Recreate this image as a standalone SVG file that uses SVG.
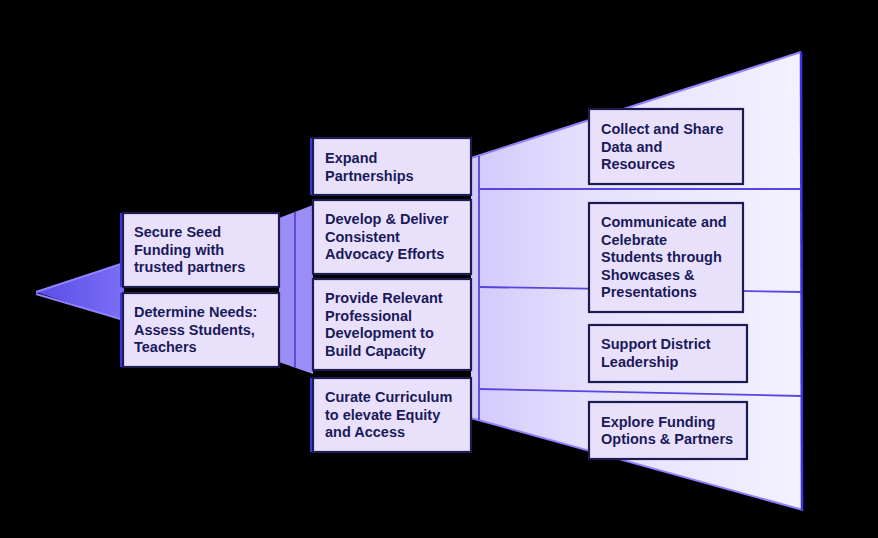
<svg xmlns="http://www.w3.org/2000/svg" width="878" height="538" viewBox="0 0 878 538">
<defs>
<linearGradient id="gTri" x1="0" y1="0" x2="1" y2="0"><stop offset="0" stop-color="#5a4ce6"/><stop offset="1" stop-color="#7c6ef4"/></linearGradient>
<linearGradient id="gBig" x1="0" y1="0" x2="1" y2="0"><stop offset="0" stop-color="#d2c9fb"/><stop offset="0.35" stop-color="#e6e0fd"/><stop offset="1" stop-color="#f4f1ff"/></linearGradient>
<style>
.box{fill:#e9e1fb;stroke:#1c1c52;stroke-width:2.2}
.t{font-family:"Liberation Sans",Arial,sans-serif;font-weight:bold;font-size:14.5px;fill:#1a1a5a}
.ln{stroke:#5546e0;stroke-width:1.8;fill:none}
.edge{stroke:#8f82ff;stroke-width:2;fill:none}
</style>
</defs>
<rect width="878" height="538" fill="#000"/>
<g id="funnel">
<polygon points="36,292 124,263 124,321" fill="url(#gTri)"/>
<polyline class="edge" points="36,292 124,263"/>
<polyline class="edge" points="36,294 124,320"/>
<polygon points="279,218 313,205 313,374 279,362" fill="#9b8df6"/>
<line class="ln" x1="295" y1="212" x2="295" y2="368"/>
<polygon points="471,158 801,52 803,510 471,418" fill="url(#gBig)"/>
<polyline class="edge" points="471,158 801,52"/>
<polyline class="edge" points="471,418 803,510"/>
<line x1="801" y1="52" x2="802" y2="510" stroke="#3a34f0" stroke-width="2.5"/>
<line class="ln" x1="479" y1="156" x2="479" y2="420"/>
<line class="ln" x1="479" y1="189" x2="801" y2="189"/>
<line class="ln" x1="479" y1="287" x2="801" y2="292"/>
<line class="ln" x1="479" y1="389" x2="801" y2="396"/>
</g>
<g id="n1"><rect class="box" x="123" y="213" width="156" height="74"/><line x1="121" y1="213" x2="121" y2="287" stroke="#3b38d8" stroke-width="2"/>
<text class="t" x="134"><tspan x="134" y="237">Secure Seed</tspan><tspan x="134" y="254.5">Funding with</tspan><tspan x="134" y="272">trusted partners</tspan></text></g>
<g id="n2"><rect class="box" x="123" y="293" width="156" height="74"/><line x1="121" y1="293" x2="121" y2="367" stroke="#3b38d8" stroke-width="2"/>
<text class="t"><tspan x="134" y="317">Determine Needs:</tspan><tspan x="134" y="334.5">Assess Students,</tspan><tspan x="134" y="352">Teachers</tspan></text></g>
<g id="n3"><rect class="box" x="313" y="138" width="158" height="57"/><line x1="311" y1="138" x2="311" y2="195" stroke="#3b38d8" stroke-width="2"/>
<text class="t"><tspan x="325" y="163">Expand</tspan><tspan x="325" y="180.5">Partnerships</tspan></text></g>
<g id="n4"><rect class="box" x="313" y="200" width="158" height="74"/>
<text class="t"><tspan x="325" y="224">Develop &amp; Deliver</tspan><tspan x="325" y="241.5">Consistent</tspan><tspan x="325" y="259">Advocacy Efforts</tspan></text></g>
<g id="n5"><rect class="box" x="313" y="279" width="158" height="91"/>
<text class="t"><tspan x="325" y="303">Provide Relevant</tspan><tspan x="325" y="320.5">Professional</tspan><tspan x="325" y="338">Development to</tspan><tspan x="325" y="355.5">Build Capacity</tspan></text></g>
<g id="n6"><rect class="box" x="313" y="378" width="158" height="74"/><line x1="311" y1="378" x2="311" y2="452" stroke="#3b38d8" stroke-width="2"/>
<text class="t"><tspan x="325" y="402">Curate Curriculum</tspan><tspan x="325" y="419.5">to elevate Equity</tspan><tspan x="325" y="437">and Access</tspan></text></g>
<g id="n7"><rect class="box" x="589" y="109" width="154" height="75"/>
<text class="t"><tspan x="601" y="134">Collect and Share</tspan><tspan x="601" y="151.5">Data and</tspan><tspan x="601" y="169">Resources</tspan></text></g>
<g id="n8"><rect class="box" x="589" y="203" width="154" height="109"/>
<text class="t"><tspan x="601" y="227">Communicate and</tspan><tspan x="601" y="244.5">Celebrate</tspan><tspan x="601" y="262">Students through</tspan><tspan x="601" y="279.5">Showcases &amp;</tspan><tspan x="601" y="297">Presentations</tspan></text></g>
<g id="n9"><rect class="box" x="589" y="325" width="158" height="57"/>
<text class="t"><tspan x="601" y="349">Support District</tspan><tspan x="601" y="366.5">Leadership</tspan></text></g>
<g id="n10"><rect class="box" x="589" y="402" width="158" height="57"/>
<text class="t"><tspan x="601" y="426.5">Explore Funding</tspan><tspan x="601" y="444">Options &amp; Partners</tspan></text></g>
</svg>
